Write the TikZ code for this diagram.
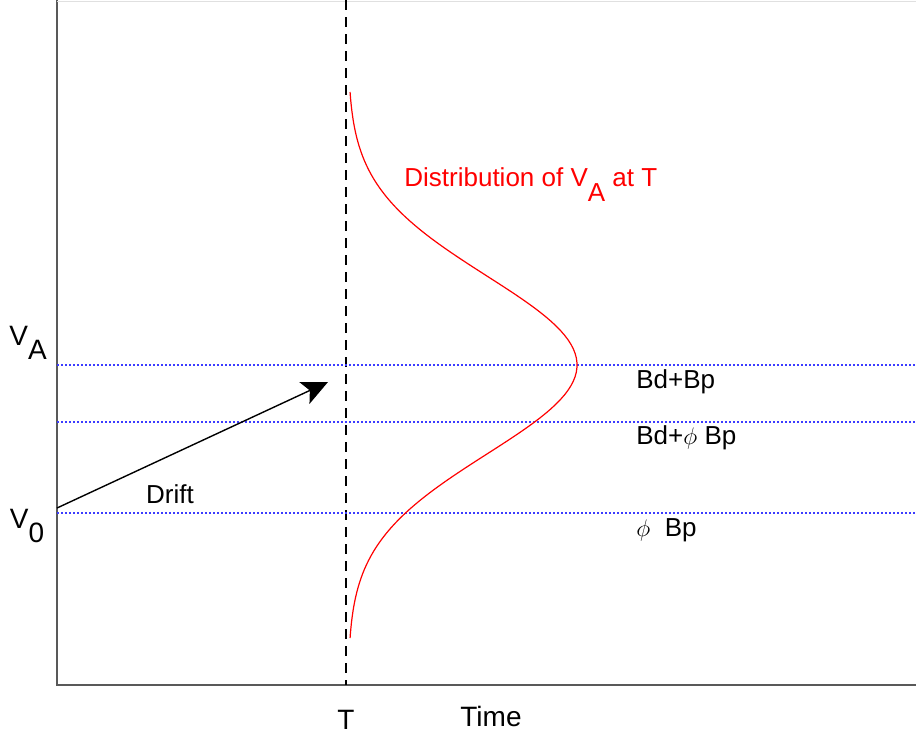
\documentclass[tikz,border=0pt]{standalone}
\usepackage{fontspec}
\setmainfont{Liberation Sans}
\usetikzlibrary{arrows.meta}
\definecolor{levelblue}{RGB}{60,60,255}
\begin{document}
\begin{tikzpicture}[x=0.5pt,y=-0.5pt,
  level/.style={draw=levelblue,line width=0.9pt,dash pattern=on 0.8pt off 1.2pt},
  lbl/.style={font=\fontsize{13}{15}\selectfont,inner sep=0pt}]
\useasboundingbox (0,0) rectangle (916,736);
% axes
\coordinate (o) at (57,685);
\coordinate (ytop) at (57,0);
\coordinate (xend) at (916,685);
\draw[black!65,line width=1pt] (ytop) -- (o) -- (xend);
\draw[black!12,line width=0.5pt] (57,1) -- (916,1);
% time T
\coordinate (ttop) at (346,0);
\coordinate (tbot) at (346,685);
\draw[dash pattern=on 5pt off 3.5pt,line width=0.7pt] (ttop) -- (tbot);
% levels
\foreach \yy/\nm in {365/la,422/lb,513/lc}{
  \coordinate (\nm w) at (57,\yy);
  \coordinate (\nm e) at (916,\yy);
  \draw[level] (\nm w) -- (\nm e);
}
% distribution at T
\draw[red,line width=0.6pt] plot[domain=92:638,samples=120]
  ({348+229*exp(-0.5*((\x-365)/89)^2)},\x);
% drift
\coordinate (v0pt) at (57,508);
\coordinate (head) at (328,382);
\draw[line width=0.7pt,-{Stealth[length=13pt,width=12pt,inset=3pt]}] (v0pt) -- (head);
\node[lbl] (drift) at (170,494) {Drift};
% labels
\node[lbl,font=\fontsize{14}{16}\selectfont] (va) at (28,343) {V\raisebox{-0.5em}{A}};
\node[lbl,font=\fontsize{14}{16}\selectfont] (v0) at (27,526) {V\raisebox{-0.5em}{0}};
\node[lbl,font=\fontsize{14}{16}\selectfont] (tlab) at (346,720) {T};
\node[lbl,font=\fontsize{14}{16}\selectfont] (time) at (491,716) {Time};
\node[lbl,anchor=west] (bdbp) at (636,382) {Bd+Bp};
\node[lbl,anchor=west] (bdphi) at (636,438) {Bd+$\phi$ Bp};
\node[lbl,anchor=west] (phibp) at (636,530) {$\phi$\ \ Bp};
\node[lbl,red,anchor=base west] (dist) at (404,186) {Distribution of V\raisebox{-0.6em}{A} at T};
\end{tikzpicture}
\end{document}
